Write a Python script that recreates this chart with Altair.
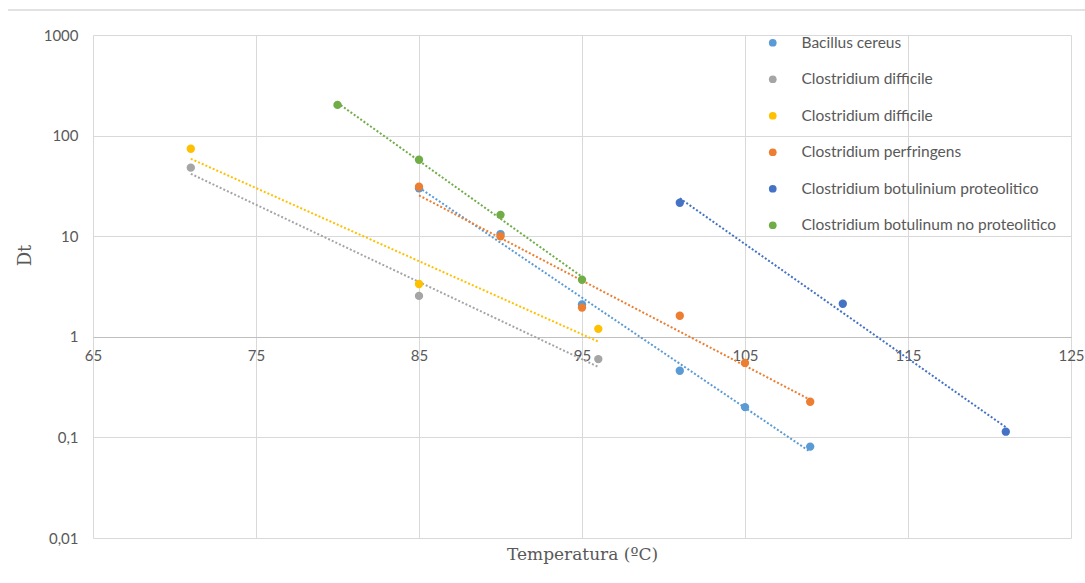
import altair as alt
import pandas as pd

# ---- data ----
series_names = [
    "Bacillus cereus",
    "Clostridium difficile",
    "Clostridium difficile #2",
    "Clostridium perfringens",
    "Clostridium botulinium proteolitico",
    "Clostridium botulinum no proteolitico",
]
series_colors = ["#5B9BD5", "#A5A5A5", "#FFC000", "#ED7D31", "#4472C4", "#70AD47"]

bc_T = [85, 90, 95, 101, 105, 109]
bc_D = [30, 10.5, 2.1, 0.46, 0.2, 0.081]
cd1_T = [71, 85, 96]
cd1_D = [48, 2.55, 0.6]
cd2_T = [71, 85, 96]
cd2_D = [74, 3.35, 1.2]
cp_T = [85, 90, 95, 101, 105, 109]
cp_D = [31, 10, 1.95, 1.62, 0.55, 0.226]
cbp_T = [101, 111, 121]
cbp_D = [21.5, 2.13, 0.114]
cbn_T = [80, 85, 90, 95]
cbn_D = [202, 57.5, 16.3, 3.69]

x_ticks = [65, 75, 85, 95, 105, 115, 125]
y_ticks = [0.01, 0.1, 1, 10, 100, 1000]

all_T = [bc_T, cd1_T, cd2_T, cp_T, cbp_T, cbn_T]
all_D = [bc_D, cd1_D, cd2_D, cp_D, cbp_D, cbn_D]

rows = []
for i, (name, ts, ds) in enumerate(zip(series_names, all_T, all_D)):
    for t, d in zip(ts, ds):
        rows.append({"series": name, "order": i, "T": t, "Dt": d})
df = pd.DataFrame(rows)

W, H = 978, 503
label_font = "Lato"
label_color = "#595959"
grid_color = "#D9D9D9"
title_font = "DejaVu Serif"

color_scale = alt.Scale(domain=series_names, range=series_colors)
x_scale = alt.Scale(domain=[65, 125], nice=False, zero=False)
y_scale = alt.Scale(type="log", domain=[0.01, 1000], nice=False)

x_axis = alt.Axis(
    values=x_ticks, grid=True, gridColor=grid_color, ticks=False,
    domain=True, domainColor="#BFBFBF", offset=-201,
    labelFont=label_font, labelFontSize=15, labelColor=label_color, labelPadding=11,
    labelFlush=False, labelOverlap=False,
    title="Temperatura (ºC)", titleFont=title_font, titleFontSize=17,
    titleFontWeight="normal", titleColor="#595959",
    titleBaseline="middle", titleY=217,
)
y_axis = alt.Axis(
    values=y_ticks, grid=True, gridColor=grid_color, ticks=False, domain=False,
    labelFont=label_font, labelFontSize=15, labelColor=label_color, labelPadding=15,
    labelFlush=False, labelOverlap=False,
    labelExpr="replace(toString(datum.value), '.', ',')",
    title="Dt", titleFont=title_font, titleFontSize=18,
    titleFontWeight="normal", titleColor="#595959",
    titleAngle=-90, titleX=-68, titleY=220, titleBaseline="middle", titleAlign="center",
)

base = alt.Chart(df)

trend = (
    base.transform_calculate(logD="log(datum.Dt) / LN10")
    .transform_regression("T", "logD", groupby=["series"], method="linear")
    .transform_calculate(Dt="pow(10, datum.logD)")
    .mark_line(strokeWidth=2, strokeDash=[2, 2], clip=True)
    .encode(
        x=alt.X("T:Q", scale=x_scale, axis=x_axis),
        y=alt.Y("Dt:Q", scale=y_scale, axis=y_axis),
        color=alt.Color("series:N", scale=color_scale, legend=None),
        detail="series:N",
    )
)

points = base.mark_circle(size=70, opacity=1).encode(
    x=alt.X("T:Q", scale=x_scale, axis=x_axis),
    y=alt.Y("Dt:Q", scale=y_scale, axis=y_axis),
    color=alt.Color(
        "series:N", scale=color_scale,
        legend=alt.Legend(
            title=None, orient="none", legendX=672, legendY=0, padding=0,
            symbolType="circle", symbolSize=60, symbolStrokeWidth=0,
            labelFont=label_font, labelFontSize=15.5, labelColor=label_color,
            labelOffset=21, rowPadding=19.5, labelLimit=400,
            labelExpr="split(datum.label, ' #')[0]",
        ),
    ),
    order=alt.Order("order:Q"),
)

top_line = alt.Chart(pd.DataFrame({"a": [0]})).mark_rule(color=grid_color, strokeWidth=1.5).encode(
    x=alt.value(-85), x2=alt.value(992), y=alt.value(-25)
)

chart = (
    alt.layer(trend, points, top_line)
    .resolve_legend(color="independent")
    .properties(
        width=W, height=H,
        autosize=alt.AutoSizeParams(type="none"),
        padding={"left": 93, "top": 35, "right": 14, "bottom": 45},
        background="white",
    )
    .configure_view(stroke=None)
)

chart.save("out.html", embed_options={"renderer": "svg", "actions": False})
